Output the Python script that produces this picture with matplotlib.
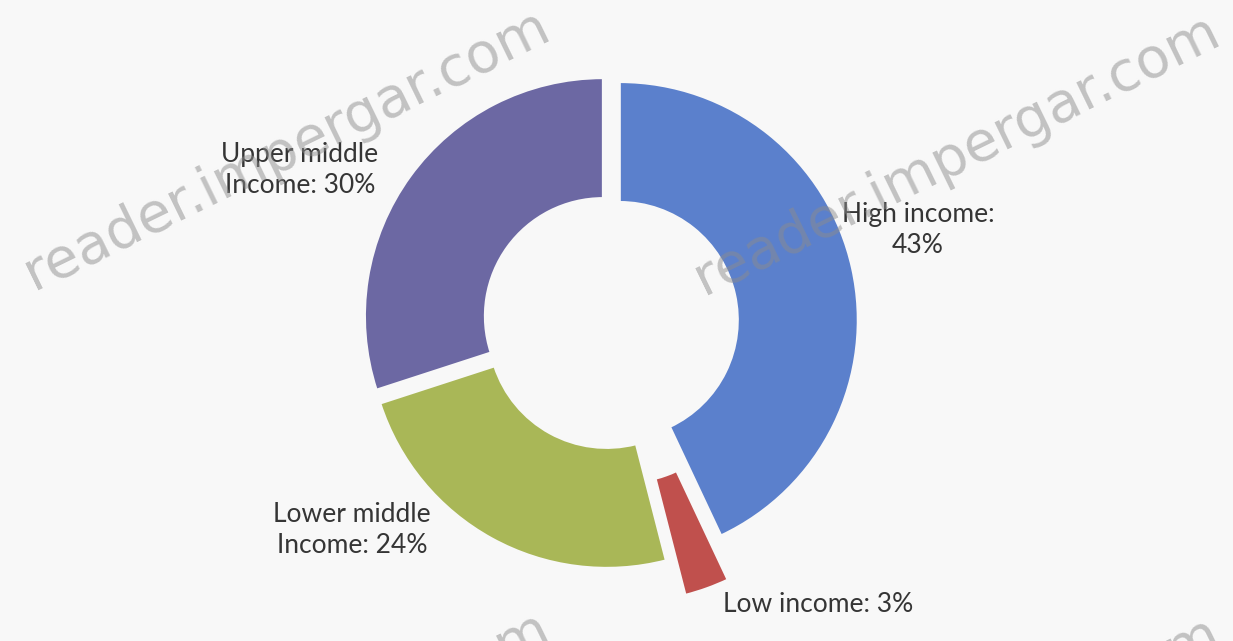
import matplotlib
matplotlib.use("Agg")
import matplotlib.pyplot as plt

# Data
categories = ["High income", "Low income", "Lower middle income", "Upper middle income"]
shares = [43, 3, 24, 30]
label_texts = ["High income:\n43%", "Low income: 3%", "Lower middle\nIncome: 24%", "Upper middle\nIncome: 30%"]

colors = ["#5b80cc", "#c0504d", "#a9b757", "#6c68a3"]
explode_px = [9, 45, 9, 10]

W, H = 1233, 641
fig = plt.figure(figsize=(W / 100, H / 100), dpi=100)
fig.patch.set_facecolor("#f8f8f8")
ax = fig.add_axes([0, 0, 1, 1])
ax.set_facecolor("#f8f8f8")

radius = 238
center = (611, H - 322)
wedges, _ = ax.pie(shares, explode=explode_px, colors=colors, startangle=90,
                   counterclock=False, radius=radius, center=center,
                   wedgeprops=dict(width=120, edgecolor="#f8f8f8", linewidth=1.5))

ax.set_xlim(0, W)
ax.set_ylim(0, H)
ax.set_aspect("equal")
ax.axis("off")

# label positions in pixels (x, y from top)
label_pos = [(918, 230), (818, 604), (352, 530), (300, 170)]
for txt, (px, py) in zip(label_texts, label_pos):
    ax.text(px, H - py, txt, ha="center", va="center", fontsize=19,
            family="Lato", color="#353535", linespacing=1.3)

# watermark
for (px, py) in [(287, 150), (957, 155), (287, 752), (957, 757)]:
    ax.text(px, H - py, "reader.impergar.com", ha="center", va="center",
            fontsize=40, rotation=26, color="#8c8c8c", alpha=0.5,
            family="DejaVu Sans", clip_on=True)

fig.savefig("out.png", dpi=100, facecolor=fig.get_facecolor())
